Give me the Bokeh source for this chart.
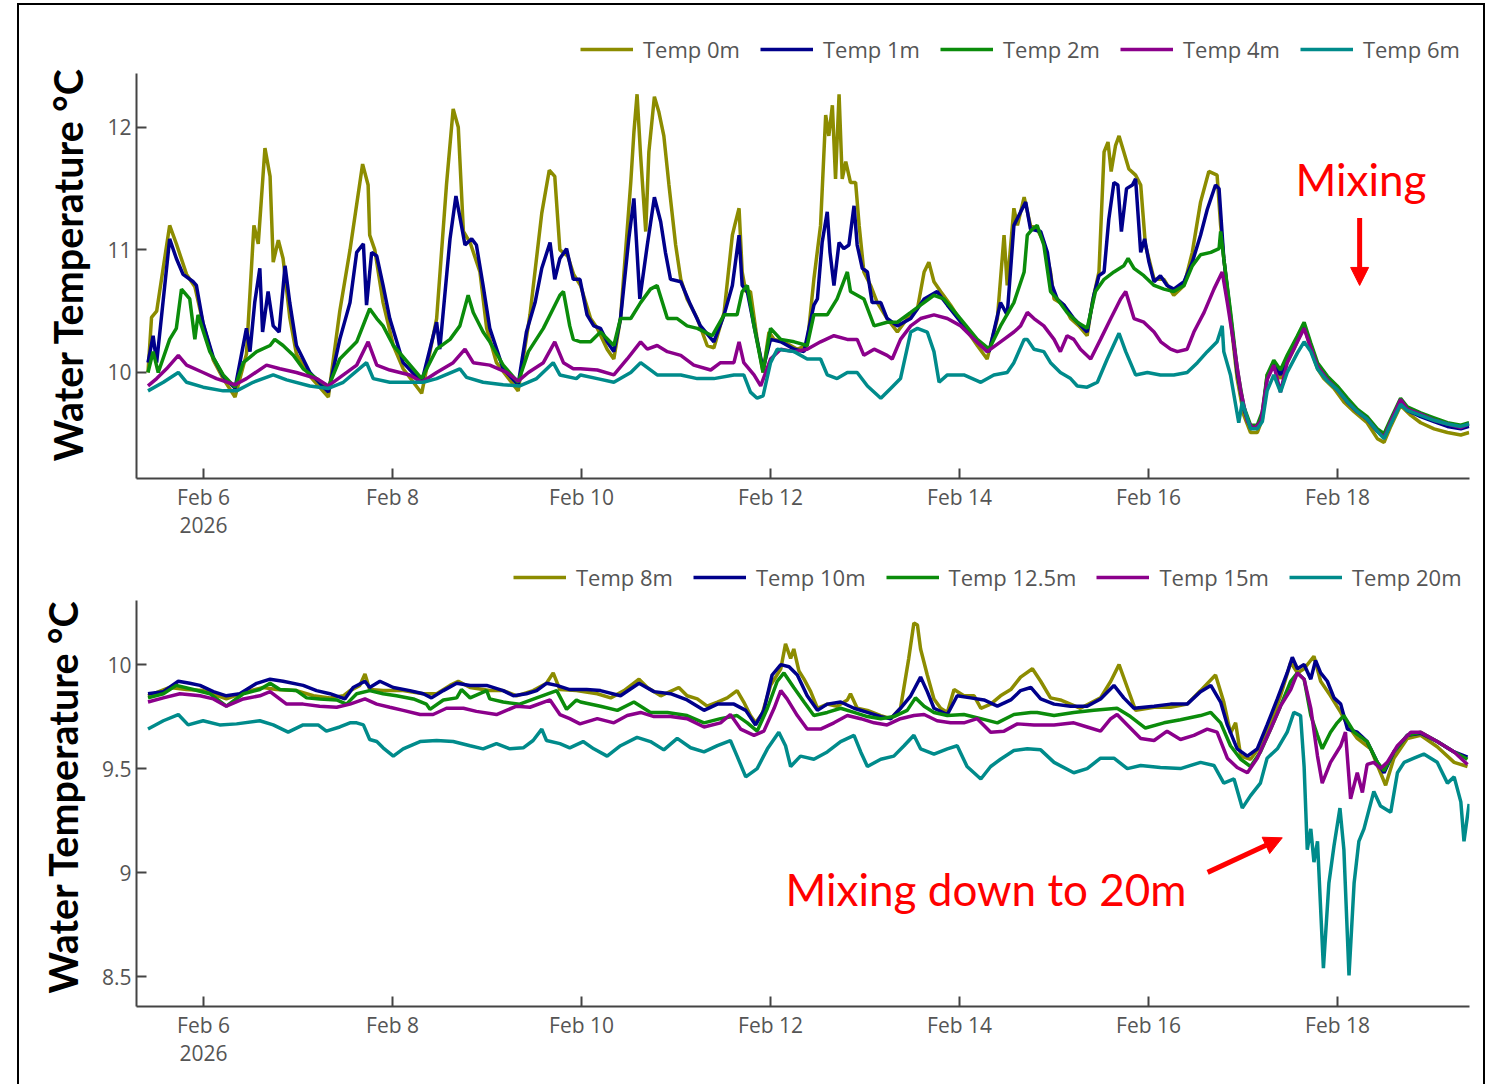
import pandas as pd
from bokeh.plotting import figure
from bokeh.layouts import column
from bokeh.models import (Range1d, FixedTicker, DatetimeTickFormatter, NumeralTickFormatter,
                          Legend, LegendItem, Label, Arrow, NormalHead)
from bokeh.embed import file_html
from bokeh.resources import INLINE

BASE = pd.Timestamp("2026-02-05 00:00")   # time values below are hours after this moment

# ---------------- upper panel: 0-6 m ----------------
s_0m = [(9.9,10.0),(10.8,10.45),(12.1,10.5),(15.4,11.2),(17.1,11.05),(19.7,10.8),(21.8,10.7),(23.9,10.4),(26.5,10.1),(29.0,9.95),(32.0,9.8),(34.9,10.15),(36.8,11.2),(37.9,11.05),(39.6,11.83),(40.9,11.6),(41.7,10.9),(43.0,11.08),(44.2,10.93),(45.9,10.45),(47.6,10.15),(51.0,9.97),(55.7,9.8),(58.6,10.5),(61.2,11.0),(64.4,11.7),(65.8,11.53),(66.2,11.12),(67.5,11.0),(69.6,10.57),(72.2,10.22),(74.7,10.03),(79.4,9.83),(83.2,10.44),(85.7,11.53),(87.4,12.15),(88.7,12.0),(90.0,11.15),(91.7,11.06),(94.2,10.82),(95.9,10.36),(98.4,10.08),(103.9,9.85),(106.9,10.47),(109.9,11.3),(111.8,11.65),(113.2,11.6),(114.5,11.0),(116.5,10.95),(118.0,10.8),(119.75,10.71),(122.3,10.44),(124.0,10.36),(126.5,10.19),(128.2,10.11),(129.9,10.44),(132.5,11.55),(133.3,11.96),(134.1,12.27),(135.0,11.77),(136.3,11.15),(137.1,11.8),(138.5,12.25),(139.6,12.13),(140.9,11.93),(142.2,11.53),(143.9,11.04),(145.2,10.76),(146.8,10.6),(149.4,10.44),(151.9,10.22),(153.6,10.2),(156.2,10.49),(158.3,11.12),(158.9,11.2),(160.0,11.34),(160.8,10.82),(161.7,10.66),(162.9,10.66),(164.6,10.27),(166.1,10.0),(167.6,10.33),(168.9,10.27),(171.4,10.25),(174.8,10.19),(177.3,10.22),(179.0,10.76),(180.7,11.2),(182.0,12.1),(182.8,11.93),(183.7,12.18),(184.5,11.58),(185.4,12.27),(186.2,11.58),(187.1,11.72),(188.3,11.55),(189.6,11.55),(190.5,11.2),(191.7,10.82),(193.4,10.71),(195.1,10.57),(197.6,10.44),(200.2,10.33),(202.7,10.44),(205.3,10.52),(207.0,10.82),(208.2,10.9),(209.5,10.74),(211.2,10.66),(213.7,10.55),(217.1,10.38),(220.5,10.22),(223.0,10.11),(225.6,10.44),(227.3,11.12),(228.1,10.71),(229.8,11.34),(230.7,11.2),(232.4,11.43),(234.0,11.2),(235.7,11.17),(237.4,11.06),(239.1,10.82),(240.0,10.6),(242.5,10.55),(244.2,10.44),(246.3,10.38),(248.4,10.3),(249.7,10.57),(251.4,10.82),(252.7,11.8),(253.7,11.88),(254.5,11.64),(255.6,11.85),(256.5,11.93),(257.7,11.8),(259.0,11.66),(260.7,11.61),(262.0,11.53),(263.2,11.04),(265.4,10.76),(267.9,10.76),(270.4,10.63),(273.0,10.71),(275.1,10.98),(277.2,11.39),(279.3,11.64),(281.4,11.61),(282.3,11.2),(283.1,10.93),(284.8,10.44),(286.5,9.95),(288.2,9.65),(289.9,9.51),(291.6,9.51),(292.9,9.62),(294.1,9.98),(295.8,10.06),(297.5,9.95),(299.2,10.08),(300.9,10.19),(303.5,10.38),(305.2,10.19),(306.9,10.03),(308.5,9.95),(311.1,9.87),(313.6,9.76),(316.2,9.68),(319.5,9.59),(322.1,9.46),(323.8,9.43),(325.5,9.56),(328.0,9.73),(330.6,9.65),(333.1,9.59),(336.5,9.54),(339.9,9.51),(343.3,9.49),(345.4,9.51)]

s_1m = [(9.9,10.08),(11.2,10.3),(12.1,10.08),(15.4,11.09),(17.1,10.93),(18.8,10.8),(21.4,10.74),(22.2,10.71),(23.9,10.4),(26.5,10.12),(29.0,9.97),(32.0,9.87),(34.9,10.36),(35.8,10.17),(37.0,10.57),(38.3,10.85),(39.0,10.33),(40.4,10.66),(41.7,10.38),(43.2,10.33),(44.7,10.87),(45.9,10.57),(47.6,10.22),(51.0,10.0),(55.7,9.84),(58.6,10.27),(61.2,10.57),(62.9,10.98),(64.6,11.05),(65.4,10.55),(66.7,10.98),(68.0,10.95),(69.6,10.71),(71.3,10.44),(74.7,10.08),(79.4,9.92),(83.2,10.41),(84.0,10.19),(86.6,11.09),(88.1,11.44),(89.5,11.2),(90.4,11.04),(92.1,11.09),(93.3,11.04),(95.0,10.71),(96.7,10.36),(100.1,10.03),(103.9,9.9),(106.0,10.33),(108.2,10.57),(109.9,10.85),(112.0,11.06),(113.2,10.76),(114.5,10.93),(116.2,11.01),(117.9,10.76),(119.6,10.76),(121.4,10.47),(123.1,10.38),(124.8,10.36),(126.5,10.25),(128.2,10.17),(129.9,10.44),(132.0,11.09),(133.3,11.42),(134.0,11.04),(134.8,10.6),(136.7,11.04),(138.5,11.43),(140.1,11.23),(141.3,10.98),(142.6,10.76),(145.2,10.74),(147.7,10.55),(150.2,10.38),(153.6,10.25),(156.2,10.47),(158.3,10.71),(160.0,11.12),(160.8,10.71),(162.1,10.66),(163.8,10.38),(166.1,10.03),(168.0,10.27),(170.6,10.25),(174.0,10.19),(176.5,10.17),(179.0,10.55),(179.9,10.6),(181.1,11.06),(182.4,11.31),(183.1,10.98),(184.1,10.71),(185.4,11.06),(186.6,11.01),(187.9,11.04),(189.2,11.36),(190.0,11.04),(191.3,10.85),(192.6,10.82),(193.8,10.57),(196.0,10.57),(197.6,10.44),(200.2,10.38),(203.6,10.44),(207.0,10.6),(210.3,10.66),(212.9,10.55),(217.1,10.38),(220.5,10.25),(223.5,10.17),(226.4,10.57),(228.1,10.47),(229.8,11.2),(231.5,11.31),(232.8,11.39),(234.0,11.17),(236.6,11.15),(238.3,10.98),(239.5,10.71),(240.8,10.6),(242.5,10.55),(245.0,10.44),(248.4,10.33),(250.1,10.63),(251.4,10.79),(252.7,10.82),(253.9,11.25),(255.2,11.55),(256.2,11.53),(257.1,11.15),(258.4,11.5),(259.9,11.53),(260.7,11.58),(262.0,10.98),(263.0,11.09),(264.1,10.9),(265.4,10.74),(267.0,10.79),(268.7,10.71),(270.4,10.68),(273.0,10.74),(275.1,10.9),(277.2,11.12),(278.9,11.33),(281.0,11.53),(281.9,11.5),(283.1,10.93),(284.8,10.47),(286.5,10.0),(288.2,9.7),(289.9,9.55),(291.6,9.55),(292.9,9.65),(294.1,9.95),(295.8,10.08),(297.5,9.98),(299.2,10.12),(301.8,10.27),(303.5,10.38),(305.2,10.22),(306.9,10.06),(309.4,9.95),(311.9,9.87),(314.5,9.76),(317.0,9.68),(319.5,9.62),(322.1,9.52),(323.8,9.47),(325.5,9.59),(328.0,9.76),(329.7,9.69),(333.1,9.64),(336.5,9.6),(339.9,9.56),(343.3,9.54),(345.4,9.56)]

s_2m = [(9.9,10.0),(11.2,10.17),(12.5,10.0),(15.4,10.27),(17.1,10.36),(18.4,10.68),(20.5,10.6),(21.8,10.27),(22.6,10.47),(25.6,10.17),(29.0,9.98),(32.0,9.88),(34.1,10.08),(37.5,10.17),(40.9,10.22),(42.1,10.27),(44.2,10.22),(46.8,10.14),(49.3,10.03),(55.7,9.88),(58.6,10.11),(62.9,10.25),(66.2,10.52),(68.0,10.44),(69.6,10.38),(72.2,10.22),(79.4,9.95),(83.2,10.19),(86.6,10.27),(89.1,10.38),(91.2,10.63),(92.5,10.49),(95.0,10.33),(96.7,10.25),(100.1,10.06),(103.9,9.92),(106.5,10.17),(110.3,10.36),(114.5,10.63),(115.4,10.66),(117.0,10.38),(117.9,10.27),(119.75,10.25),(122.3,10.25),(124.8,10.33),(128.2,10.22),(129.9,10.44),(132.5,10.44),(135.0,10.57),(137.5,10.68),(139.2,10.71),(141.8,10.44),(144.3,10.44),(146.8,10.38),(149.4,10.36),(153.2,10.3),(156.2,10.47),(159.5,10.47),(160.8,10.66),(162.1,10.71),(163.8,10.38),(166.1,10.0),(168.0,10.36),(170.6,10.27),(174.0,10.25),(177.3,10.22),(179.0,10.47),(182.4,10.47),(184.9,10.6),(187.5,10.82),(188.3,10.66),(191.7,10.6),(194.3,10.38),(197.6,10.41),(200.2,10.41),(203.6,10.49),(206.1,10.55),(209.5,10.63),(212.0,10.6),(215.4,10.47),(220.5,10.27),(223.5,10.19),(226.4,10.38),(229.8,10.57),(232.4,10.82),(233.2,11.12),(234.5,11.17),(235.7,11.2),(237.4,11.04),(239.1,10.66),(240.8,10.6),(243.3,10.49),(245.9,10.41),(248.4,10.36),(250.5,10.66),(252.7,10.76),(255.2,10.82),(257.7,10.87),(258.8,10.93),(260.3,10.85),(262.8,10.79),(265.4,10.71),(267.9,10.68),(270.4,10.66),(273.0,10.71),(275.1,10.87),(277.2,10.96),(279.8,10.98),(281.9,11.01),(282.3,11.15),(283.1,10.93),(284.8,10.5),(286.5,10.03),(288.2,9.72),(289.9,9.57),(291.6,9.57),(292.9,9.68),(294.1,9.98),(295.8,10.1),(297.5,10.02),(299.2,10.14),(301.8,10.3),(303.5,10.41),(305.2,10.24),(306.9,10.08),(309.4,9.97),(311.9,9.89),(314.5,9.79),(317.0,9.7),(319.5,9.64),(322.1,9.54),(323.8,9.5),(325.5,9.62),(328.0,9.79),(329.7,9.72),(333.1,9.67),(336.5,9.63),(339.9,9.59),(343.3,9.57),(345.4,9.59)]

s_4m = [(9.9,9.89),(12.1,9.95),(14.6,10.03),(17.6,10.14),(19.7,10.06),(23.9,10.0),(27.3,9.95),(32.0,9.9),(34.9,9.95),(40.0,10.06),(43.4,10.03),(47.6,10.0),(52.7,9.95),(55.7,9.89),(59.5,9.98),(62.9,10.06),(65.8,10.25),(68.0,10.06),(71.3,10.02),(76.4,9.98),(79.4,9.92),(83.2,10.0),(87.4,10.08),(90.4,10.19),(92.5,10.08),(96.7,10.06),(101.0,10.0),(103.9,9.93),(106.5,10.0),(110.3,10.08),(113.2,10.25),(115.4,10.08),(117.9,10.03),(119.75,10.03),(124.0,10.02),(128.2,9.98),(131.6,10.11),(135.0,10.25),(136.7,10.19),(139.2,10.22),(141.8,10.17),(145.2,10.14),(148.5,10.06),(152.8,10.02),(155.3,10.08),(158.7,10.08),(160.0,10.25),(161.2,10.08),(163.8,9.98),(165.5,9.89),(168.0,10.11),(170.6,10.19),(174.0,10.17),(177.3,10.19),(180.7,10.25),(184.1,10.3),(187.5,10.27),(190.0,10.27),(191.7,10.14),(194.3,10.19),(197.6,10.14),(198.9,10.11),(201.0,10.27),(203.6,10.38),(206.1,10.44),(209.5,10.47),(212.9,10.44),(216.3,10.38),(219.7,10.27),(223.0,10.17),(226.4,10.25),(229.8,10.33),(231.5,10.38),(233.2,10.49),(234.9,10.44),(237.4,10.38),(240.0,10.27),(241.6,10.17),(243.3,10.3),(245.0,10.27),(246.7,10.19),(249.3,10.11),(251.8,10.27),(254.4,10.44),(256.9,10.6),(258.2,10.66),(260.3,10.44),(262.8,10.41),(265.4,10.33),(267.1,10.25),(269.6,10.19),(271.3,10.17),(273.8,10.19),(275.5,10.33),(278.1,10.49),(280.6,10.68),(282.7,10.82),(284.0,10.57),(285.7,10.22),(287.4,9.85),(289.1,9.6),(290.8,9.54),(292.5,9.6),(294.1,9.94),(295.8,10.06),(297.5,9.84),(299.2,10.08),(301.8,10.25),(303.5,10.36),(305.2,10.2),(306.9,10.05),(309.4,9.94),(311.9,9.86),(314.5,9.76),(317.0,9.68),(319.5,9.62),(322.1,9.52),(323.8,9.47),(325.5,9.6),(328.0,9.78),(329.7,9.7),(333.1,9.66),(336.5,9.61),(339.9,9.58),(343.3,9.55),(345.4,9.58)]

s_6m = [(9.9,9.85),(13.8,9.92),(17.6,10.0),(19.7,9.92),(23.9,9.88),(29.0,9.85),(32.4,9.85),(36.6,9.92),(41.7,9.98),(45.1,9.94),(51.0,9.89),(55.7,9.87),(59.5,9.92),(65.4,10.08),(67.1,9.95),(71.3,9.92),(76.4,9.92),(79.8,9.92),(83.2,9.95),(89.1,10.03),(90.8,9.96),(95.0,9.92),(100.1,9.9),(104.3,9.89),(108.6,9.95),(112.8,10.08),(114.5,9.98),(118.7,9.95),(119.75,9.98),(124.0,9.95),(128.2,9.92),(132.5,10.0),(135.0,10.08),(139.2,9.98),(145.2,9.98),(149.4,9.95),(153.6,9.95),(158.7,9.98),(161.2,9.98),(162.9,9.84),(164.6,9.79),(166.1,9.81),(168.0,10.08),(169.7,10.19),(174.0,10.17),(177.3,10.11),(180.7,10.11),(182.4,9.98),(184.9,9.95),(187.5,10.0),(190.0,10.0),(192.6,9.89),(196.0,9.79),(198.5,9.87),(201.0,9.95),(203.6,10.33),(205.3,10.36),(207.8,10.33),(209.5,10.17),(210.8,9.92),(212.9,9.98),(217.1,9.98),(221.4,9.92),(224.7,9.98),(228.1,10.0),(229.8,10.08),(232.4,10.27),(233.2,10.27),(234.9,10.19),(237.4,10.17),(239.1,10.08),(241.6,10.0),(244.2,9.95),(245.9,9.89),(248.4,9.88),(251.0,9.92),(253.5,10.11),(256.5,10.32),(258.2,10.17),(260.7,9.98),(263.7,10.0),(267.0,9.98),(270.4,9.98),(273.8,10.0),(276.4,10.08),(278.9,10.17),(281.4,10.25),(282.7,10.38),(283.1,10.17),(284.8,9.98),(286.9,9.59),(287.8,9.76),(289.9,9.54),(291.6,9.54),(292.9,9.6),(294.1,9.85),(295.8,9.98),(297.5,9.84),(299.2,10.0),(301.8,10.16),(303.5,10.25),(305.2,10.17),(306.9,10.03),(309.4,9.93),(311.9,9.86),(314.5,9.76),(317.0,9.68),(319.5,9.62),(322.1,9.52),(323.8,9.46),(325.5,9.58),(328.0,9.74),(329.7,9.69),(333.1,9.65),(336.5,9.61),(339.9,9.58),(343.3,9.56),(345.4,9.58)]

# ---------------- lower panel: 8-20 m ----------------
s_8m = [(9.9,9.85),(15.4,9.89),(19.7,9.88),(23.9,9.875),(29.8,9.835),(34.9,9.87),(39.2,9.89),(42.5,9.88),(47.6,9.875),(51.9,9.85),(56.1,9.84),(59.5,9.85),(61.2,9.875),(63.7,9.9),(65.0,9.955),(66.2,9.88),(69.6,9.875),(74.7,9.875),(79.8,9.86),(83.2,9.86),(86.6,9.9),(88.7,9.92),(91.7,9.89),(96.7,9.875),(100.1,9.875),(103.5,9.85),(107.7,9.875),(111.1,9.91),(112.8,9.96),(114.5,9.88),(118.7,9.875),(124.0,9.86),(127.4,9.84),(130.8,9.875),(134.6,9.93),(136.7,9.89),(140.1,9.85),(144.7,9.89),(146.8,9.85),(149.4,9.835),(151.9,9.8),(154.5,9.82),(157.0,9.84),(159.5,9.875),(161.2,9.82),(162.9,9.755),(164.2,9.72),(165.9,9.765),(168.0,9.9),(170.6,9.98),(171.8,10.1),(173.1,10.03),(173.9,10.075),(175.2,9.97),(176.5,9.93),(178.2,9.87),(179.9,9.79),(182.4,9.81),(184.9,9.8),(187.5,9.83),(188.3,9.86),(190.0,9.79),(192.6,9.78),(196.0,9.755),(198.5,9.74),(201.0,9.79),(203.1,10.03),(204.4,10.2),(205.3,10.19),(206.1,10.075),(207.8,9.95),(209.5,9.835),(211.2,9.79),(212.9,9.77),(214.6,9.88),(217.1,9.85),(219.7,9.85),(221.4,9.79),(223.9,9.81),(226.4,9.85),(229.0,9.88),(231.5,9.94),(234.5,9.98),(236.6,9.92),(239.1,9.84),(241.6,9.83),(246.7,9.79),(251.8,9.84),(254.4,9.92),(256.5,10.0),(258.6,9.89),(260.7,9.78),(265.4,9.795),(269.6,9.795),(273.8,9.81),(277.2,9.875),(281.0,9.95),(283.1,9.82),(284.8,9.67),(286.1,9.72),(287.4,9.56),(289.9,9.545),(292.4,9.61),(295.0,9.72),(297.5,9.85),(300.1,10.01),(301.8,9.96),(303.5,9.98),(306.0,10.04),(307.7,9.92),(310.2,9.85),(312.8,9.77),(314.5,9.71),(317.0,9.645),(320.4,9.595),(322.9,9.48),(324.2,9.42),(326.3,9.55),(329.7,9.645),(333.1,9.66),(337.3,9.605),(341.6,9.53),(345.0,9.51)]

s_10m = [(9.9,9.86),(13.8,9.87),(17.6,9.92),(20.5,9.91),(23.1,9.9),(26.5,9.87),(29.8,9.85),(33.2,9.86),(37.5,9.91),(40.9,9.93),(44.2,9.92),(49.3,9.9),(52.7,9.875),(56.1,9.86),(59.9,9.835),(62.0,9.89),(65.0,9.92),(66.2,9.89),(68.8,9.92),(72.2,9.89),(76.4,9.875),(79.8,9.86),(81.9,9.84),(84.9,9.875),(88.3,9.91),(91.7,9.9),(95.9,9.9),(100.1,9.875),(102.7,9.85),(106.0,9.86),(108.6,9.875),(111.1,9.91),(113.7,9.9),(117.0,9.88),(121.3,9.88),(124.8,9.875),(129.9,9.85),(134.6,9.91),(138.4,9.87),(142.6,9.86),(146.8,9.83),(151.1,9.78),(154.5,9.81),(158.7,9.81),(161.7,9.78),(164.2,9.71),(166.3,9.78),(168.4,9.95),(170.6,10.0),(172.7,9.99),(174.8,9.95),(177.3,9.85),(179.9,9.78),(182.4,9.81),(185.8,9.82),(189.2,9.79),(192.6,9.77),(196.0,9.75),(198.5,9.74),(201.0,9.79),(203.6,9.85),(206.1,9.94),(207.8,9.87),(209.5,9.79),(212.9,9.76),(215.4,9.85),(218.8,9.84),(222.2,9.83),(225.6,9.8),(229.0,9.83),(231.5,9.875),(234.1,9.89),(236.6,9.835),(240.0,9.81),(244.2,9.8),(248.4,9.8),(251.8,9.835),(255.2,9.9),(257.7,9.84),(260.3,9.79),(265.4,9.8),(269.6,9.81),(273.8,9.81),(277.2,9.87),(279.8,9.9),(282.3,9.82),(284.0,9.71),(286.5,9.595),(289.1,9.56),(291.6,9.595),(294.1,9.71),(296.7,9.835),(299.2,9.96),(300.5,10.035),(301.8,9.98),(303.5,10.0),(305.2,9.93),(306.4,10.02),(307.7,9.96),(309.4,9.92),(311.1,9.84),(312.8,9.81),(314.5,9.69),(317.0,9.675),(319.5,9.63),(322.1,9.53),(323.8,9.48),(326.3,9.58),(329.7,9.66),(333.1,9.67),(337.3,9.63),(341.6,9.58),(345.0,9.555)]

s_12m = [(9.9,9.84),(13.8,9.86),(17.1,9.9),(21.4,9.88),(25.6,9.86),(29.8,9.8),(34.1,9.86),(38.3,9.88),(40.9,9.91),(43.4,9.88),(47.6,9.875),(50.2,9.84),(53.5,9.835),(57.8,9.83),(60.3,9.81),(62.9,9.86),(66.2,9.875),(69.6,9.86),(73.0,9.85),(77.3,9.835),(80.6,9.81),(81.5,9.785),(84.9,9.83),(88.3,9.84),(89.5,9.88),(91.7,9.84),(95.9,9.875),(96.7,9.835),(100.1,9.82),(104.3,9.81),(108.6,9.84),(113.7,9.875),(116.2,9.785),(118.7,9.83),(119.75,9.82),(124.8,9.8),(129.1,9.78),(133.3,9.82),(137.5,9.77),(141.8,9.77),(146.8,9.755),(151.1,9.72),(155.3,9.74),(159.5,9.755),(162.1,9.72),(164.6,9.68),(167.2,9.79),(169.7,9.92),(171.4,9.96),(173.9,9.89),(176.5,9.82),(179.0,9.755),(182.4,9.77),(185.8,9.79),(189.2,9.77),(192.6,9.75),(196.0,9.74),(199.3,9.75),(202.7,9.78),(204.8,9.84),(207.0,9.8),(209.5,9.77),(212.9,9.755),(217.1,9.76),(221.4,9.74),(225.6,9.72),(229.8,9.76),(234.1,9.77),(235.7,9.77),(240.0,9.755),(245.0,9.77),(250.1,9.78),(256.0,9.79),(259.4,9.75),(263.2,9.695),(267.9,9.72),(272.1,9.735),(277.2,9.755),(279.8,9.77),(282.3,9.72),(284.8,9.61),(287.4,9.545),(289.9,9.51),(292.4,9.58),(295.0,9.69),(297.5,9.8),(300.1,9.92),(301.8,9.96),(303.5,9.93),(305.2,9.755),(306.9,9.66),(308.1,9.595),(310.2,9.675),(311.9,9.72),(313.6,9.755),(316.2,9.675),(319.5,9.63),(322.1,9.53),(323.8,9.49),(326.3,9.58),(329.7,9.66),(333.1,9.675),(337.3,9.63),(341.6,9.58),(345.0,9.545)]

s_15m = [(9.9,9.82),(13.8,9.84),(18.0,9.86),(23.1,9.85),(26.5,9.835),(29.8,9.8),(34.1,9.835),(38.3,9.85),(40.9,9.87),(45.1,9.81),(49.3,9.81),(53.5,9.8),(57.8,9.795),(61.2,9.81),(65.0,9.835),(68.0,9.81),(71.3,9.795),(74.7,9.78),(79.0,9.76),(82.3,9.76),(85.7,9.79),(90.0,9.79),(93.3,9.775),(98.4,9.76),(103.5,9.8),(106.9,9.795),(112.0,9.83),(114.5,9.76),(117.0,9.74),(119.6,9.715),(124.0,9.74),(128.2,9.72),(131.6,9.755),(135.0,9.77),(138.4,9.75),(142.6,9.75),(146.8,9.74),(151.1,9.7),(155.3,9.72),(157.8,9.76),(160.4,9.69),(163.8,9.66),(166.3,9.68),(168.9,9.79),(170.6,9.875),(172.2,9.835),(174.8,9.755),(177.3,9.69),(180.7,9.69),(184.1,9.72),(187.5,9.755),(190.9,9.74),(194.3,9.72),(197.6,9.71),(201.0,9.74),(204.4,9.755),(207.0,9.76),(210.3,9.73),(213.7,9.72),(217.1,9.72),(220.5,9.74),(223.9,9.675),(227.3,9.68),(230.7,9.715),(234.9,9.71),(240.0,9.71),(245.0,9.72),(248.4,9.7),(251.8,9.68),(254.4,9.74),(256.0,9.76),(258.6,9.71),(262.0,9.645),(265.4,9.635),(268.7,9.68),(272.1,9.64),(275.5,9.66),(278.9,9.69),(281.4,9.675),(284.0,9.55),(286.5,9.505),(289.1,9.48),(291.6,9.55),(295.0,9.69),(297.5,9.8),(300.1,9.88),(301.8,9.96),(303.5,9.93),(305.2,9.79),(306.9,9.56),(308.1,9.43),(310.2,9.53),(312.8,9.61),(314.0,9.675),(315.3,9.355),(317.0,9.48),(318.3,9.385),(319.5,9.52),(321.2,9.53),(322.9,9.5),(324.6,9.53),(327.2,9.61),(330.6,9.675),(333.1,9.675),(337.3,9.63),(341.6,9.58),(345.0,9.52)]

s_20m = [(9.9,9.69),(13.8,9.73),(17.6,9.76),(20.1,9.71),(23.9,9.73),(28.1,9.71),(32.4,9.715),(38.3,9.73),(41.7,9.71),(45.5,9.675),(49.3,9.71),(53.1,9.71),(55.2,9.68),(58.6,9.7),(61.2,9.72),(62.9,9.72),(64.6,9.71),(66.2,9.64),(68.0,9.63),(69.6,9.6),(72.2,9.56),(74.7,9.595),(79.0,9.63),(83.2,9.635),(87.4,9.63),(91.7,9.61),(95.0,9.595),(98.4,9.62),(101.8,9.595),(105.2,9.6),(107.7,9.635),(109.9,9.69),(111.1,9.635),(114.5,9.62),(117.0,9.6),(120.4,9.63),(123.1,9.595),(126.5,9.56),(129.9,9.61),(134.1,9.65),(137.5,9.63),(140.9,9.59),(144.3,9.645),(147.7,9.6),(151.1,9.58),(154.5,9.61),(157.8,9.635),(159.5,9.56),(161.7,9.46),(164.6,9.5),(167.2,9.595),(170.1,9.675),(171.8,9.61),(173.1,9.51),(175.6,9.56),(179.0,9.545),(182.4,9.58),(185.8,9.63),(189.2,9.66),(190.9,9.58),(192.6,9.51),(196.0,9.545),(199.3,9.56),(201.9,9.61),(204.4,9.66),(206.1,9.595),(209.5,9.57),(212.9,9.595),(215.4,9.61),(217.9,9.51),(221.4,9.45),(223.9,9.51),(226.4,9.545),(229.8,9.587),(233.2,9.595),(236.6,9.59),(240.0,9.53),(245.0,9.48),(248.4,9.5),(251.8,9.55),(255.2,9.55),(258.6,9.5),(262.0,9.515),(267.0,9.505),(272.1,9.5),(277.2,9.53),(280.6,9.515),(283.1,9.43),(285.7,9.45),(287.8,9.31),(289.9,9.37),(292.4,9.43),(294.1,9.55),(296.7,9.595),(299.2,9.675),(300.9,9.77),(302.6,9.755),(303.5,9.51),(304.3,9.11),(305.2,9.21),(306.0,9.05),(306.9,9.15),(308.4,8.54),(309.8,8.95),(311.1,9.13),(312.6,9.31),(313.6,9.11),(314.9,8.505),(316.2,8.95),(317.4,9.15),(318.7,9.21),(321.2,9.39),(322.9,9.32),(325.5,9.29),(327.2,9.48),(328.9,9.53),(331.4,9.55),(333.9,9.57),(337.3,9.53),(339.9,9.43),(341.6,9.46),(343.3,9.34),(344.1,9.15),(345.4,9.33)]

upper_names = ["Temp 0m", "Temp 1m", "Temp 2m", "Temp 4m", "Temp 6m"]
lower_names = ["Temp 8m", "Temp 10m", "Temp 12.5m", "Temp 15m", "Temp 20m"]
upper_series = [s_0m, s_1m, s_2m, s_4m, s_6m]
lower_series = [s_8m, s_10m, s_12m, s_15m, s_20m]
colors = ["#8c8c00", "#00008b", "#0b8c0b", "#8b008b", "#008b8b"]

x_tick_dates = ["2026-02-06", "2026-02-08", "2026-02-10", "2026-02-12",
                "2026-02-14", "2026-02-16", "2026-02-18"]
upper_yticks = [10, 11, 12]
lower_yticks = [8.5, 9, 9.5, 10]
x_start_h, x_end_h = 6.98, 345.5
upper_ybounds = (9.135, 12.44)     # drawn axis extent
upper_ytop = 12.79                 # extra room above the axis holds the legend
lower_ybounds = (8.356, 10.308)
lower_ytop = 10.515
y_title = "Water Temperature °C"


def ts(h):
    return BASE + pd.Timedelta(hours=h)


def ms(t):
    return (pd.Timestamp(t) - pd.Timestamp("1970-01-01")).total_seconds() * 1000.0


def make_panel(series, names, ybounds, ytop, yticks, height, btop, bbot,
               legend_x, legend_y, title_pad):
    p = figure(width=1464, height=height, x_axis_type="datetime",
               output_backend="svg", toolbar_location=None,
               x_range=Range1d(ts(x_start_h), ts(x_end_h)),
               y_range=Range1d(ybounds[0], ytop),
               min_border_left=117, min_border_right=14,
               min_border_top=btop, min_border_bottom=bbot)
    p.outline_line_color = None
    p.xgrid.visible = False
    p.ygrid.visible = False
    p.background_fill_color = "white"
    p.border_fill_color = "white"

    items = []
    for s, name, c in zip(series, names, colors):
        hs = [a for a, b in s]
        vs = [b for a, b in s]
        r = p.line([ts(h) for h in hs], vs, line_color=c, line_width=3.5)
        items.append(LegendItem(label=name, renderers=[r]))

    xa = p.xaxis[0]
    ya = p.yaxis[0]
    xa.ticker = FixedTicker(ticks=[ms(d) for d in x_tick_dates])
    xa.formatter = DatetimeTickFormatter(days="%b %-d", context="%Y",
                                         context_which="start", context_location="below")
    ya.ticker = FixedTicker(ticks=yticks)
    ya.formatter = NumeralTickFormatter(format="0.[0]")
    ya.bounds = ybounds
    for ax in (xa, ya):
        ax.axis_line_color = "#444444"
        ax.axis_line_width = 2
        ax.major_tick_line_color = "#444444"
        ax.major_tick_line_width = 2
        ax.major_tick_in = 10
        ax.major_tick_out = 0
        ax.minor_tick_line_color = None
        ax.major_label_text_font = "Open Sans"
        ax.major_label_text_font_size = "21px"
        ax.major_label_text_color = "#555555"
    xa.major_label_standoff = 4
    xa.major_label_text_line_height = 1.0
    ya.major_label_standoff = 5
    # non-breaking spaces nudge the centred title along the axis
    ya.axis_label = y_title + "\u00a0" * title_pad
    ya.axis_label_text_font = "Lato"
    ya.axis_label_text_font_style = "bold"
    ya.axis_label_text_font_size = "39.5px"
    ya.axis_label_text_color = "black"
    ya.axis_label_standoff = 13

    legend = Legend(items=items, orientation="horizontal", location=(legend_x, legend_y),
                    label_text_font="Open Sans", label_text_font_size="22px",
                    label_text_color="#555555", glyph_width=53, glyph_height=20,
                    label_standoff=10, spacing=20, padding=0, margin=0,
                    border_line_alpha=0, background_fill_alpha=0)
    p.add_layout(legend)
    return p


p1 = make_panel(upper_series, upper_names, upper_ybounds, upper_ytop, upper_yticks,
                540, 25, 67, 444, 414, 2)
p2 = make_panel(lower_series, lower_names, lower_ybounds, lower_ytop, lower_yticks,
                539, 12, 78, 377, 414, 3)

# annotations
p1.add_layout(Label(x=ms(ts(301.3)), y=11.58, text="Mixing", text_color="#ff0000",
                    text_font="Lato", text_font_size="44px", text_baseline="alphabetic"))
p1.add_layout(Arrow(x_start=ms(ts(317.6)), y_start=11.26, x_end=ms(ts(317.6)), y_end=10.71,
                    line_color="#ff0000", line_width=5,
                    end=NormalHead(size=18, fill_color="#ff0000", line_color="#ff0000")))
p2.add_layout(Label(x=ms(ts(171.8)), y=8.923, text="Mixing down to 20m", text_color="#ff0000",
                    text_font="Lato", text_font_size="44px", text_baseline="alphabetic"))
p2.add_layout(Arrow(x_start=ms(ts(279.0)), y_start=9.001, x_end=ms(ts(297.95)), y_end=9.167,
                    line_color="#ff0000", line_width=5,
                    end=NormalHead(size=18, fill_color="#ff0000", line_color="#ff0000")))

layout = column(p1, p2, spacing=0,
                styles={"margin-left": "17px", "margin-top": "3px",
                        "border-left": "2px solid black", "border-top": "2px solid black",
                        "border-right": "2px solid black"})

open("out.html", "w").write(file_html(layout, INLINE))
